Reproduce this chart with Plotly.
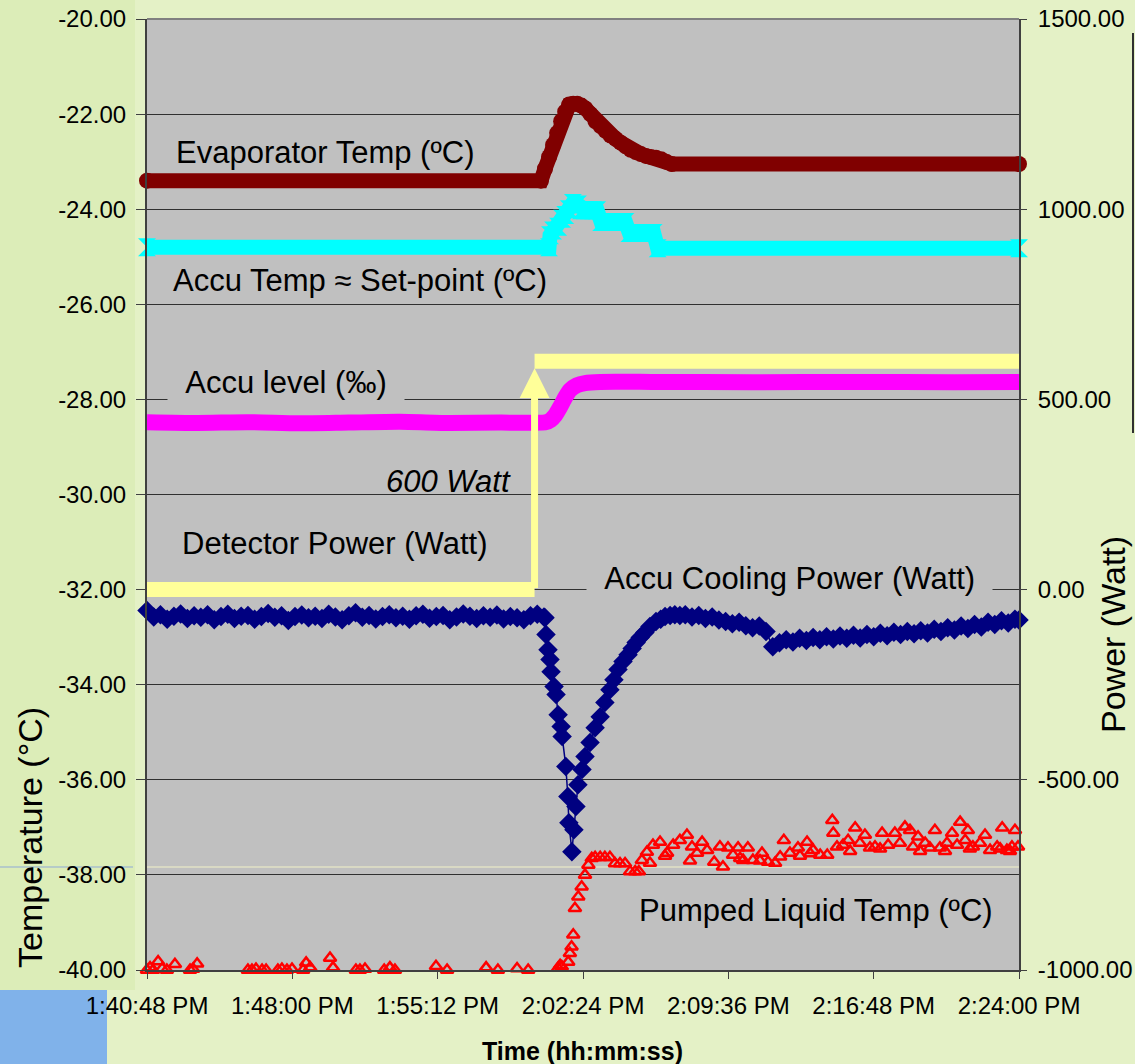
import plotly.graph_objects as go
import pandas as pd

# ---------------- data (times are seconds after 1:40:48 PM) ----------------
BASE = pd.Timestamp("2010-01-01 13:40:48")

evap_t = [0, 1171, 1183, 1195, 1207, 1219, 1231, 1243, 1255, 1267, 1279, 1291, 1303, 1318, 1333,
          1348, 1363, 1378, 1393, 1408, 1423, 1438, 1453, 1468, 1483, 1498, 1513, 1528, 1543, 1560, 2592]
evap_v = [-23.4, -23.4, -23.15, -22.9, -22.65, -22.4, -22.15, -21.95, -21.8, -21.78, -21.78, -21.82,
          -21.88, -22.0, -22.15, -22.25, -22.35, -22.45, -22.52, -22.6, -22.68, -22.75, -22.8, -22.84,
          -22.88, -22.9, -22.92, -22.95, -23.0, -23.05, -23.05]

accu_t = [0, 1195, 1198, 1207, 1222, 1234, 1243, 1254, 1266, 1281, 1290, 1302, 1314, 1326, 1338,
          1350, 1362, 1374, 1386, 1398, 1410, 1422, 1434, 1446, 1458, 1470, 1482, 1494, 1506, 1518, 2592]
accu_v = [-24.8, -24.8, -24.55, -24.45, -24.37, -24.2, -24.12, -24.0, -23.87, -23.9, -24.02, -24.02,
          -24.02, -24.02, -24.02, -24.27, -24.27, -24.27, -24.27, -24.27, -24.27, -24.27, -24.5, -24.5,
          -24.5, -24.5, -24.5, -24.5, -24.5, -24.82, -24.82]

level_t = [0, 150, 300, 450, 600, 750, 900, 1050, 1185, 1200, 1213, 1228, 1243, 1257, 1278, 1302,
           1347, 1500, 1800, 2100, 2400, 2592]
level_v = [440, 438, 440, 437, 439, 441, 438, 439, 440, 446, 458, 480, 505, 524, 537, 543, 546, 546,
           545, 546, 545, 546]

det_t = [0, 1152, None, 1152, 2592]
det_v = [0, 0, None, 600, 600]

cool_a_t = list(range(0, 1181, 20))
cool_a_v = [-55, -72, -66, -78, -70, -64, -76, -69, -73, -66,
            -79, -71, -65, -76, -70, -68, -78, -71, -63, -73,
            -69, -81, -71, -67, -74, -70, -76, -65, -72, -79,
            -69, -61, -73, -68, -77, -71, -66, -74, -70, -78,
            -69, -65, -75, -71, -68, -79, -72, -64, -70, -76,
            -69, -73, -67, -77, -71, -74, -79, -69, -65, -72]
cool_b_t = [1183, 1186, 1192, 1198, 1201, 1210, 1216, 1222, 1231, 1234, 1245, 1251, 1254, 1263, 1269,
            1275, 1281, 1293, 1302, 1317, 1332, 1347, 1361, 1376, 1388, 1400, 1415, 1430, 1442, 1454,
            1466, 1480, 1495, 1513, 1527, 1540, 1555, 1569, 1584]
cool_b_v = [-74, -118, -158, -184, -216, -255, -276, -329, -360, -386, -465, -544, -613, -689, -631,
            -570, -513, -473, -439, -402, -363, -334, -297, -263, -237, -210, -189, -171, -155, -139,
            -126, -113, -97, -84, -78, -71, -68, -66, -68]
cool_c_t = list(range(1600, 2581, 20)) + [2592]
cool_c_v = [-66, -72, -68, -76, -72, -80, -84, -90, -86, -95,
            -100, -96, -110, -150, -140, -132, -138, -128, -134, -126,
            -132, -124, -130, -122, -128, -120, -127, -118, -124, -115,
            -121, -112, -118, -110, -116, -108, -114, -104, -110, -100,
            -106, -96, -102, -92, -98, -86, -92, -82, -88, -78, -80]

pump_pre_t = [0, 9, 18, 33, 45, 59, 83, 128, 137, 149, 300, 312, 324, 342, 354, 389, 401, 416, 431,
              464, 473, 485, 544, 553, 621, 633, 648, 705, 722, 737, 859, 892, 1008, 1043, 1100, 1133]
pump_pre_v = [-40.0, -39.95, -40.0, -39.82, -39.97, -40.0, -39.88, -40.0, -39.98, -39.87,
              -40.0, -40.0, -39.98, -40.0, -40.0, -40.0, -39.98, -40.0, -39.98, -40.0,
              -39.85, -39.95, -39.75, -39.95, -40.0, -40.0, -39.98, -40.0, -39.95, -40.0,
              -39.92, -40.0, -39.95, -40.0, -39.97, -40.0]
pump_rise_t = [1222, 1228, 1233, 1252, 1257, 1262, 1267, 1272, 1282, 1292, 1302, 1312, 1322,
               1332, 1347, 1361, 1376, 1391, 1406, 1421, 1436, 1451, 1462]
pump_rise_v = [-39.96, -39.9, -39.93, -39.83, -39.65, -39.51, -39.26, -38.7, -38.46, -38.25, -38.0,
               -37.79, -37.65, -37.63, -37.63, -37.63, -37.63, -37.76, -37.76, -37.76, -37.93,
               -37.93, -37.93]
pump_after_t = [1471, 1486, 1495, 1504, 1525, 1540, 1546, 1564, 1584, 1605, 1614, 1620, 1635, 1650,
                1665, 1686, 1703, 1712, 1727, 1742, 1757, 1763, 1772, 1786, 1801, 1822, 1828, 1846,
                1867, 1882, 1893, 1911, 1935, 1941, 1962, 1971, 1980, 2001, 2022, 2037, 2040, 2051,
                2069, 2084, 2090, 2105, 2119, 2134, 2149, 2164, 2179, 2185, 2203, 2223, 2238, 2253,
                2268, 2277, 2292, 2298, 2313, 2327, 2342, 2357, 2372, 2378, 2393, 2408, 2417, 2432,
                2440, 2446, 2455, 2476, 2491, 2506, 2527, 2536, 2542, 2556, 2565, 2571, 2580, 2589]
pump_after_v = [-37.69, -37.52, -37.75, -37.37, -37.31, -37.6, -37.54, -37.37, -37.27, -37.16,
                -37.7, -37.41, -37.54, -37.31, -37.48, -37.73, -37.41, -37.83, -37.43, -37.58,
                -37.43, -37.65, -37.69, -37.43, -37.69, -37.7, -37.54, -37.73, -37.75, -37.62,
                -37.27, -37.54, -37.43, -37.6, -37.31, -37.55, -37.48, -37.58, -37.58, -36.85,
                -37.12, -37.41, -37.37, -37.27, -37.5, -37.01, -37.33, -37.16, -37.43, -37.41,
                -37.45, -37.12, -37.37, -37.12, -37.33, -36.99, -37.06, -37.41, -37.2, -37.5,
                -37.33, -37.43, -37.06, -37.43, -37.5, -37.33, -37.12, -37.37, -36.89, -37.27,
                -37.06, -37.45, -37.41, -37.33, -37.16, -37.48, -37.41, -37.45, -37.01, -37.48,
                -37.5, -37.41, -37.06, -37.41]

x_start, x_end, x_step = 0, 2592, 432
left_tickvals = [-40, -38, -36, -34, -32, -30, -28, -26, -24, -22, -20]
left_ticktext = ["-40.00", "-38.00", "-36.00", "-34.00", "-32.00", "-30.00", "-28.00", "-26.00",
                 "-24.00", "-22.00", "-20.00"]
right_tickvals = [-1000, -500, 0, 500, 1000, 1500]
right_ticktext = ["-1000.00", "-500.00", "0.00", "500.00", "1000.00", "1500.00"]


def ts(secs):
    return [None if s is None else (BASE + pd.Timedelta(seconds=s)).strftime("%Y-%m-%d %H:%M:%S")
            for s in secs]


# ---------------- layout geometry helpers ----------------
W, H = 1135, 1064
L, R, T, B = 147, 1019, 19, 970


def px(x):
    return (x - L) / (R - L)


def py(y):
    return (B - y) / (B - T)


FONT = "Liberation Sans, Arial, sans-serif"

fig = go.Figure()

fig.add_trace(go.Scatter(x=ts(evap_t), y=evap_v, mode="lines+markers", cliponaxis=False,
                         line=dict(color="#800000", width=15),
                         marker=dict(symbol="circle", size=16, color="#800000")))
fig.add_trace(go.Scatter(x=ts(accu_t), y=accu_v, mode="lines+markers", cliponaxis=False,
                         line=dict(color="#00FFFF", width=15),
                         marker=dict(symbol="hourglass", size=18, color="#00FFFF")))
fig.add_trace(go.Scatter(x=ts(pump_pre_t + pump_rise_t + pump_after_t),
                         y=pump_pre_v + pump_rise_v + pump_after_v, mode="markers", cliponaxis=False,
                         marker=dict(symbol="triangle-up-open", size=11, color="#FF0000",
                                     line=dict(color="#FF0000", width=2.5))))
fig.add_trace(go.Scatter(x=ts(level_t), y=level_v, yaxis="y2", mode="lines", cliponaxis=False,
                         line=dict(color="#FF00FF", width=16, shape="spline", smoothing=0.6)))
fig.add_trace(go.Scatter(x=ts(det_t), y=det_v, yaxis="y2", mode="lines", cliponaxis=False,
                         line=dict(color="#FFFF99", width=15)))
fig.add_trace(go.Scatter(x=ts(cool_a_t + cool_b_t + cool_c_t), y=cool_a_v + cool_b_v + cool_c_v,
                         yaxis="y2", mode="lines+markers", cliponaxis=False,
                         line=dict(color="#000080", width=1.5),
                         marker=dict(symbol="diamond", size=15, color="#000080")))

lab = dict(size=31, color="black", family=FONT)
nb = "\u00a0\u00a0"
annotations = [
    dict(x=px(175), y=py(152), text="Evaporator Temp (ºC)", xanchor="left"),
    dict(x=px(172), y=py(281), text="Accu Temp ≈ Set-point (ºC)", xanchor="left"),
    dict(x=px(167), y=py(383), text=nb + "Accu level (‰)" + nb, xanchor="left", bgcolor="#C0C0C0"),
    dict(x=px(512), y=py(481), text="<i>600 Watt</i>", xanchor="right"),
    dict(x=px(181), y=py(543), text="Detector Power (Watt)", xanchor="left"),
    dict(x=px(586), y=py(578), text=nb + "Accu Cooling Power (Watt)" + nb, xanchor="left",
         bgcolor="#C0C0C0"),
    dict(x=px(638), y=py(910), text="Pumped Liquid Temp (ºC)", xanchor="left"),
]
for a in annotations:
    a.update(xref="paper", yref="paper", yanchor="middle", showarrow=False, font=lab, borderpad=0)

annotations += [
    dict(xref="paper", yref="paper", x=px(30), y=py(838), text="Temperature (°C)", textangle=-90,
         xanchor="center", yanchor="middle",
         showarrow=False, font=dict(size=34, color="black", family=FONT)),
    dict(xref="paper", yref="paper", x=px(1113), y=py(635), text="Power (Watt)", textangle=-90,
         xanchor="center", yanchor="middle",
         showarrow=False, font=dict(size=34, color="black", family=FONT)),
    dict(xref="paper", yref="paper", x=px(582), y=py(1051), text="<b>Time (hh:mm:ss)</b>",
         xanchor="center", yanchor="middle",
         showarrow=False, font=dict(size=25, color="black", family=FONT)),
    dict(x=ts([1152])[0], y=det_v[3], xref="x", yref="y2", ax=ts([1152])[0], ay=det_v[0],
         axref="x", ayref="y2", text="", showarrow=True, arrowhead=2, arrowsize=0.85,
         arrowwidth=7, arrowcolor="#FFFF99", standoff=7),
]

shapes = [
    dict(type="rect", xref="paper", yref="paper", x0=px(0), x1=px(135), y0=py(990), y1=py(0),
         fillcolor="#DCEDB8", line=dict(width=0), layer="below"),
    dict(type="rect", xref="paper", yref="paper", x0=px(0), x1=px(107), y0=py(1064), y1=py(990),
         fillcolor="#80B2EA", line=dict(width=0), layer="below"),
    dict(type="line", xref="paper", yref="paper", x0=px(0), x1=px(133), y0=py(867), y1=py(867),
         line=dict(color="#8FA9D6", width=1), layer="below"),
    dict(type="line", xref="paper", yref="paper", x0=0, x1=1, y0=py(867), y1=py(867),
         line=dict(color="#F2F2C8", width=1), layer="between"),
    dict(type="line", xref="paper", yref="paper", x0=px(1133), x1=px(1133), y0=py(433), y1=py(33),
         line=dict(color="#303030", width=2)),
    dict(type="line", xref="paper", yref="paper", x0=0, x1=1, y0=1, y1=1,
         line=dict(color="#808080", width=2)),
]

fig.update_layout(
    width=W, height=H, autosize=False,
    margin=dict(l=L, r=W - R, t=T, b=H - B, pad=0, autoexpand=False),
    paper_bgcolor="#E4F1C6", plot_bgcolor="#C0C0C0",
    showlegend=False,
    font=dict(family=FONT, size=24, color="black"),
    annotations=annotations, shapes=shapes,
    xaxis=dict(type="date", range=ts([x_start, x_end]), tick0=ts([x_start])[0], dtick=x_step * 1000,
               tickformat="%-I:%M:%S %p", ticks="outside", ticklen=7, tickwidth=1, tickcolor="#404040",
               showline=True, linecolor="#404040", linewidth=2, showgrid=False, zeroline=False,
               automargin=False,
               tickfont=dict(size=24, family=FONT, color="black"), ticklabelstandoff=6),
    yaxis=dict(range=[-40, -20], tickmode="array", tickvals=left_tickvals, ticktext=left_ticktext,
               ticks="outside", ticklen=9, tickwidth=1, tickcolor="#404040", automargin=False,
               showline=True, linecolor="#404040", linewidth=2, showgrid=True,
               gridcolor="#303030", gridwidth=1, zeroline=False, ticklabelstandoff=5,
               tickfont=dict(size=24, family=FONT, color="black")),
    yaxis2=dict(range=[-1000, 1500], overlaying="y", side="right", tickmode="array",
                tickvals=right_tickvals, ticktext=right_ticktext, ticks="outside", ticklen=6,
                tickwidth=1, tickcolor="#404040", showline=True, linecolor="#404040", linewidth=2,
                showgrid=False, zeroline=False, ticklabelstandoff=6, automargin=False,
                tickfont=dict(size=24, family=FONT, color="black")),
)

fig.write_html("out.html")
